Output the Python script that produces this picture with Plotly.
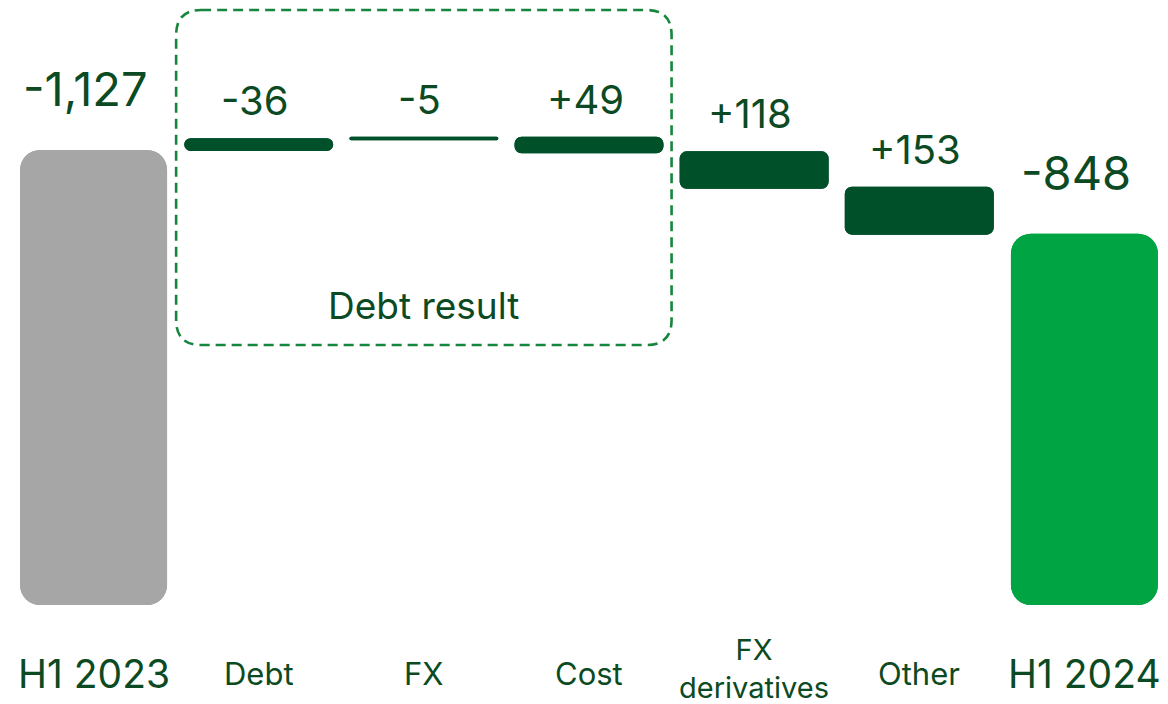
import plotly.graph_objects as go

# ---- data (EUR m) ----
categories = ["H1 2023", "Debt", "FX", "Cost", "FX derivatives", "Other", "H1 2024"]
category_labels = ["H1 2023", "Debt", "FX", "Cost", "FX<br>derivatives", "Other", "H1 2024"]
start_value = -1127
change_categories = ["Debt", "FX", "Cost", "FX derivatives", "Other"]
change_values = [-36, -5, 49, 118, 153]
end_value = -848
group_label = "Debt result"
group_members = ["Debt", "FX", "Cost"]

# ---- styling / layout constants ----
FONT = "Inter"
TEXT = "#0b4a22"
GRAY = "#a6a6a6"
DARK = "#00502a"
BRIGHT = "#00a443"
BOX = "#17853d"
W, H = 1168, 704
M_L, M_R, M_T, M_B = 11, 1, 0, 99
Y_TOP, Y_BOTTOM = -1627, 390   # visible value window (axis reversed: losses grow upward)

# ---- derived waterfall positions ----
prev = []
run = start_value
for v in change_values:
    prev.append(run)
    run += v
after = [p + v for p, v in zip(prev, change_values)]
totals_x = [categories[0], categories[-1]]
totals_y = [start_value, end_value]
total_colors = [GRAY, BRIGHT]

fig = go.Figure()
# totals: two overlapping halves so both ends get rounded corners
fig.add_bar(x=totals_x, base=[Y_BOTTOM] * 2, y=[t - Y_BOTTOM for t in totals_y],
            marker=dict(color=total_colors, cornerradius=20, line=dict(width=0)),
            hoverinfo="skip", showlegend=False)
fig.add_bar(x=totals_x, base=totals_y, y=[Y_BOTTOM - t for t in totals_y],
            marker=dict(color=total_colors, cornerradius=20, line=dict(width=0)),
            hoverinfo="skip", showlegend=False)
# changes
fig.add_bar(x=change_categories, base=prev, y=change_values,
            marker=dict(color=DARK, cornerradius=6, line=dict(width=2, color=DARK)),
            hoverinfo="skip", showlegend=False)
fig.add_bar(x=change_categories, base=after, y=[-v for v in change_values],
            marker=dict(color=DARK, cornerradius=6, line=dict(width=2, color=DARK)),
            hoverinfo="skip", showlegend=False)

annotations = []
# value labels for totals
for c, t in zip(totals_x, totals_y):
    annotations.append(dict(x=c, y=t, xref="x", yref="y", text=f"{t:,}",
                            showarrow=False, yanchor="bottom", yshift=31, xshift=-8,
                            font=dict(family=FONT, size=47, color=TEXT)))
# value labels for changes
for c, p, a, v in zip(change_categories, prev, after, change_values):
    annotations.append(dict(x=c, y=min(p, a), xref="x", yref="y", text=f"{v:+,}",
                            showarrow=False, yanchor="bottom", yshift=12, xshift=-4,
                            font=dict(family=FONT, size=40, color=TEXT)))
# category labels
for c, lab in zip(categories, category_labels):
    big = c in totals_x
    two_line = "<br>" in lab
    annotations.append(dict(x=c, y=-68 / (H - M_T - M_B), xref="x", yref="paper", text=lab,
                            showarrow=False, yanchor="middle", yshift=5 if two_line else 0,
                            font=dict(family=FONT, size=39 if big else (29 if two_line else 31),
                                      color=TEXT)))

# dashed rounded box around the debt-result group
i0 = categories.index(group_members[0]) - 0.5
i1 = categories.index(group_members[-1]) + 0.5
plot_h = H - M_T - M_B
plot_w = W - M_L - M_R
slot = plot_w / len(categories)
r = 25
rx, ry = r / slot, r / plot_h
yt, yb = 1 - 10 / plot_h, 1 - 345 / plot_h
path = (f"M {i0 + rx},{yt} L {i1 - rx},{yt} Q {i1},{yt} {i1},{yt - ry} "
        f"L {i1},{yb + ry} Q {i1},{yb} {i1 - rx},{yb} "
        f"L {i0 + rx},{yb} Q {i0},{yb} {i0},{yb + ry} "
        f"L {i0},{yt - ry} Q {i0},{yt} {i0 + rx},{yt} Z")
shapes = [dict(type="path", path=path, xref="x", yref="paper",
               line=dict(color=BOX, width=2.6, dash="10px,6px"), layer="below")]
annotations.append(dict(x=(i0 + i1) / 2, y=1 - 305 / plot_h, xref="x", yref="paper",
                        text=group_label, showarrow=False, yanchor="middle",
                        font=dict(family=FONT, size=37, color=TEXT)))

fig.update_layout(
    width=W, height=H,
    margin=dict(l=M_L, r=M_R, t=M_T, b=M_B),
    barmode="overlay", bargap=0.11,
    paper_bgcolor="white", plot_bgcolor="white",
    xaxis=dict(type="category", categoryorder="array", categoryarray=categories,
               range=[-0.5, len(categories) - 0.5],
               showticklabels=False, showgrid=False, zeroline=False, showline=False),
    yaxis=dict(range=[Y_BOTTOM, Y_TOP], visible=False, showgrid=False, zeroline=False),
    annotations=annotations, shapes=shapes,
    font=dict(family=FONT, color=TEXT),
)

fig.write_html("out.html", config={"displayModeBar": False, "staticPlot": True},
               post_script="document.body.style.margin='0';document.body.style.padding='0';")
